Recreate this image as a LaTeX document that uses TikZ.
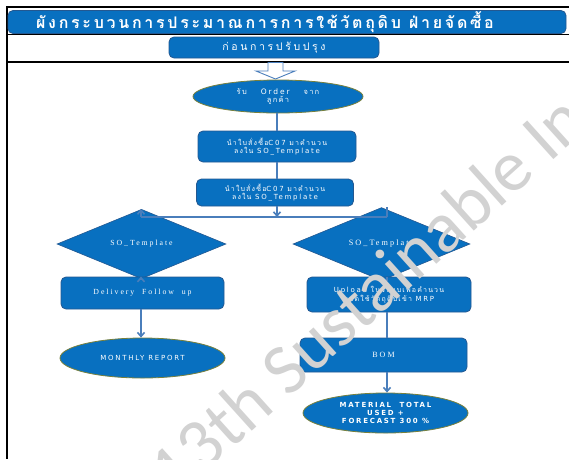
\documentclass[tikz,border=0pt]{standalone}
\usepackage{fontspec}
\usetikzlibrary{shapes.geometric,arrows.meta}
\newfontfamily\thaititle[Script=Thai,LetterSpace=17]{Loma}
\newfontfamily\thaimid[Script=Thai,LetterSpace=25]{Loma}
\newfontfamily\thaisp[Script=Thai,LetterSpace=17]{Loma}
\newfontfamily\sanssp[LetterSpace=25]{DejaVu Sans}
\newfontfamily\serifsp[LetterSpace=25]{Liberation Serif}
\newfontfamily\wmfont{Carlito}
\definecolor{boxblue}{RGB}{8,112,192}
\definecolor{boxborder}{RGB}{35,88,145}
\definecolor{ellolive}{RGB}{120,128,60}
\definecolor{conn}{RGB}{74,126,187}
\tikzset{
  bluebox/.style={draw=boxborder, fill=boxblue, rounded corners=5pt, line width=0.8pt, inner sep=0pt, text=white, align=center},
  blueell/.style={ellipse, draw=ellolive, fill=boxblue, line width=0.8pt, inner sep=0pt, text=white, align=center},
  bluedia/.style={diamond, draw=boxborder, fill=boxblue, line width=0.6pt, inner sep=0pt, text=white, align=center},
  connline/.style={draw=conn, line width=1.6pt},
  connarrow/.style={connline, -{Straight Barb[length=4pt,width=7pt]}},
  frameline/.style={draw=black, line width=1.4pt},
  thaitxt/.style={font=\thaisp\fontsize{7}{7.5}\selectfont},
}
\begin{document}
\begin{tikzpicture}[x=1pt,y=-1pt]
\useasboundingbox (0,0) rectangle (569,459);
\fill[white] (0,0) rectangle (569,459);
% frame
\draw[frameline, line width=2pt] (6,7) -- (569,7);
\draw[frameline, line width=2pt] (7,6) -- (7,459);
\draw[frameline] (7,34.5) -- (569,34.5);
\draw[frameline] (7,62) -- (569,62);
% title
\node[bluebox, minimum width=558pt, minimum height=23pt] (title) at (287,22) {};
\node[text=white, inner sep=0pt, font=\thaititle\bfseries\fontsize{16}{18}\selectfont] (titletxt) at (265,22.5) {ผังกระบวนการประมาณการการใช้วัตถุดิบ ฝ่ายจัดซื้อ};
\node[bluebox, minimum width=210pt, minimum height=21pt, font=\thaimid\fontsize{10.5}{12}\selectfont] (before) at (274,47.5) {ก่อนการปรับปรุง};
% hollow arrow
\draw[draw=conn, fill=white, line width=0.9pt] (268,62.5) -- (283,62.5) -- (283,71) -- (295,71) -- (275.5,79) -- (256,71) -- (268,71) -- cycle;
% main column
\node[blueell, font=\thaisp\fontsize{7.5}{8.5}\selectfont, minimum width=170pt, minimum height=33pt] (order) at (278,96.5) {รับ\hspace{14pt}{\sanssp Order}\hspace{14pt}จาก\\ลูกค้า};
\node[bluebox, thaitxt, minimum width=158pt, minimum height=31pt] (po1) at (277,146.5) {นำใบสั่งซื้อ{\sanssp C07} มาคำนวน\\ลงใน {\sanssp SO\_Template}};
\node[bluebox, thaitxt, minimum width=157pt, minimum height=27pt] (po2) at (275,192.5) {นำใบสั่งซื้อ{\sanssp C07} มาคำนวน\\ลงใน {\sanssp SO\_Template}};
\coordinate (junc) at (277,217);
\coordinate (jl) at (141,217);
\coordinate (jr) at (387,217);
% left column
\node[bluedia, minimum width=169pt, minimum height=26pt, font=\serifsp\fontsize{7.8}{8}\selectfont] (d1) at (141.5,244) {SO\_Template};
\node[bluebox, minimum width=163pt, minimum height=32pt, font=\serifsp\fontsize{7.8}{8}\selectfont] (deliv) at (142.5,293) {Delivery\ \ Follow\ \ up};
\node[blueell, minimum width=165pt, minimum height=40pt, font=\sanssp\fontsize{7}{8}\selectfont] (monthly) at (142.5,358) {MONTHLY REPORT};
% right column
\node[bluedia, minimum width=177pt, minimum height=26pt, font=\serifsp\fontsize{8.2}{8}\selectfont] (d2) at (381.5,244) {SO\_Template};
\node[bluebox, thaitxt, minimum width=164pt, minimum height=35pt] (upload) at (389,294.5) {{\sanssp Upload} ในระบบเพื่อคำนวน\\ยอดใช้วัตถุดิบเข้า {\sanssp MRP}};
\node[bluebox, minimum width=167pt, minimum height=34pt, font=\serifsp\fontsize{8}{8}\selectfont] (bom) at (383.5,355) {BOM};
\node[blueell, minimum width=165pt, minimum height=40pt, font=\sanssp\bfseries\fontsize{7}{7.6}\selectfont] (final) at (385.5,413) {MATERIAL\ \ TOTAL\\USED\ +\\FORECAST 300 \%};
% connectors
\draw[connline] (order.south -| po1.north) -- (po1.north);
\draw[connline] (po1.south) -- (po1.south |- po2.north);
\draw[connarrow] (po2.south -| junc) -- (junc);
\draw[connline] (jl) -- (jr);
\draw[connarrow] (jl) -- (jl |- d1.north);
\draw[connarrow] (d1.south -| jl) -- (jl |- deliv.north);
\draw[connarrow] (deliv.south -| jl) -- (jl |- monthly.north);
\draw[connline] (jr) -- (jr |- d2.north);
\draw[connline] (d2.south -| jr) -- (jr |- upload.north);
\draw[connline] (upload.south -| jr) -- (jr |- bom.north);
\draw[connarrow] (bom.south -| jr) -- (jr |- final.north);
% watermark
\begin{scope}
\clip (0,0) rectangle (569,459);
\node[text=gray!35, inner sep=0pt, anchor=base west, rotate=42, font=\wmfont\fontsize{72}{72}\selectfont] (wm) at (175.7,499.4) {13th Sustainable In};
\end{scope}
\end{tikzpicture}
\end{document}
